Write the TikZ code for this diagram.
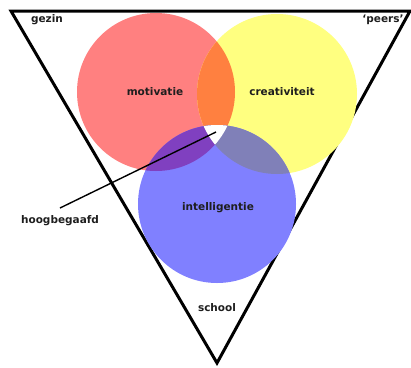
\documentclass[tikz,border=0pt]{standalone}
\usepackage{fontspec}
\setmainfont{DejaVu Sans}
\definecolor{cred}{RGB}{255,128,128}
\definecolor{cyel}{RGB}{255,255,128}
\definecolor{cblu}{RGB}{128,128,255}
\definecolor{cora}{RGB}{255,128,64}
\definecolor{cpur}{RGB}{128,64,192}
\definecolor{cgry}{RGB}{128,128,184}
\definecolor{ctxt}{RGB}{30,30,30}
\begin{document}
\begin{tikzpicture}[x=1pt,y=-1pt,
  lbl/.style={font=\fontsize{10.5}{12}\selectfont\bfseries, text=ctxt, inner sep=0pt}]
\useasboundingbox (0,0) rectangle (411,367);
% triangle
\coordinate (tl) at (11,11);
\coordinate (tr) at (410,11);
\coordinate (ap) at (217,363);
\draw[line width=3pt, line join=miter] (tl) -- (tr) -- (ap) -- cycle;
% circles
\def\cR{(156,92) circle[radius=79]}
\def\cY{(277,94) circle[radius=80]}
\def\cB{(217,204) circle[radius=79]}
\fill[cred] \cR;
\fill[cyel] \cY;
\fill[cblu] \cB;
\begin{scope}\clip \cR; \fill[cora] \cY; \end{scope}
\begin{scope}\clip \cR; \fill[cpur] \cB; \end{scope}
\begin{scope}\clip \cY; \fill[cgry] \cB; \end{scope}
\begin{scope}\clip \cR; \clip \cY; \fill[white] \cB; \end{scope}
% labels
\node[lbl] (gezin) at (47,20) {gezin};
\node[lbl] (peers) at (383,20) {`peers'};
\node[lbl] (mot) at (155,92) {motivatie};
\node[lbl] (cre) at (282,92) {creativiteit};
\node[lbl] (int) at (218,208) {intelligentie};
\node[lbl] (sch) at (217,308) {school};
\node[lbl] (hoog) at (60,221) {hoogbegaafd};
\coordinate (hb) at (216,132);
\coordinate (he) at (60,208);
\draw[line width=1.4pt] (hb) -- (he);
\end{tikzpicture}
\end{document}
